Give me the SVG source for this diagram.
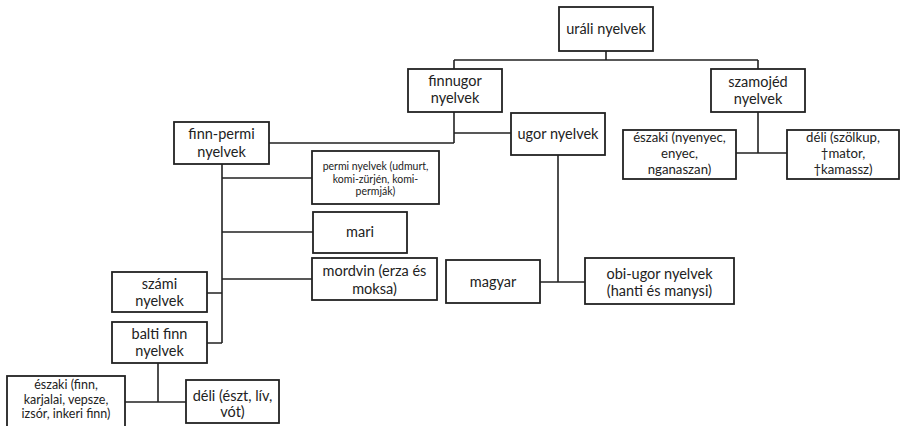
<svg xmlns="http://www.w3.org/2000/svg" width="903" height="426" viewBox="0 0 903 426">
<style>
rect{fill:#fff;stroke:#222;stroke-width:1.8}
.c path{fill:none;stroke:#222;stroke-width:1.6}
text{font-family:Lato,"Open Sans","Liberation Sans",sans-serif;font-size:14.5px;fill:#222;text-anchor:middle}
.s{font-size:10.5px}
.m{font-size:13.2px}
.n{font-size:12.5px}
</style>
<rect x="0" y="0" width="903" height="426" style="stroke:none"/>
<g class="c" id="connectors">
<path d="M606 51V60M454 60H758M454 60V69M758 60V69"/>
<path d="M454 112V143M269 143H454M454 133H511"/>
<path d="M558 155V282M540 282H585"/>
<path d="M758 112V153M736 153H787"/>
<path d="M222 164V343M222 178H312M222 232H313M222 279H312M207 293H222M207 343H222"/>
<path d="M158 363V402M125 402H186"/>
</g>
<g id="urali"><rect x="559" y="7" width="94" height="44"/><text x="606" y="34">uráli nyelvek</text></g>
<g id="finnugor"><rect x="408" y="69" width="94" height="43"/><text x="455" y="86">finnugor</text><text x="455" y="103">nyelvek</text></g>
<g id="szamojed"><rect x="711" y="69" width="94" height="43"/><text x="758" y="87">szamojéd</text><text x="758" y="104">nyelvek</text></g>
<g id="finnpermi"><rect x="174" y="122" width="95" height="42"/><text x="221.5" y="139">finn-permi</text><text x="221.5" y="157">nyelvek</text></g>
<g id="ugor"><rect x="511" y="113" width="94" height="42"/><text x="558" y="139">ugor nyelvek</text></g>
<g id="eszaki-szamojed"><rect x="623" y="130" width="113" height="49"/><text class="m" x="679.5" y="142">északi (nyenyec,</text><text class="m" x="679.5" y="158">enyec,</text><text class="m" x="679.5" y="174">nganaszan)</text></g>
<g id="deli-szamojed"><rect x="787" y="130" width="112" height="49"/><text class="m" x="843" y="142">déli (szölkup,</text><text class="m" x="843" y="158">†mator,</text><text class="m" x="843" y="174">†kamassz)</text></g>
<g id="permi"><rect x="312" y="151" width="127" height="53"/><text class="s" x="375.5" y="170">permi nyelvek (udmurt,</text><text class="s" x="375.5" y="182.5">komi-zürjén, komi-</text><text class="s" x="375.5" y="195">permják)</text></g>
<g id="mari"><rect x="313" y="212" width="94" height="41"/><text x="360" y="237">mari</text></g>
<g id="mordvin"><rect x="312" y="258" width="125" height="42"/><text x="374.5" y="276">mordvin (erza és</text><text x="374.5" y="294">moksa)</text></g>
<g id="szami"><rect x="112" y="272" width="95" height="40"/><text x="159.5" y="289">számi</text><text x="159.5" y="306">nyelvek</text></g>
<g id="balti"><rect x="112" y="322" width="95" height="41"/><text x="159.5" y="339">balti finn</text><text x="159.5" y="356">nyelvek</text></g>
<g id="eszaki-balti"><rect x="7" y="376" width="118" height="54"/><text class="n" x="66" y="389">északi (finn,</text><text class="n" x="66" y="403.5">karjalai, vepsze,</text><text class="n" x="66" y="418">izsór, inkeri finn)</text></g>
<g id="deli-balti"><rect x="186" y="380" width="93" height="43"/><text x="232.5" y="401">déli (észt, lív,</text><text x="232.5" y="417">vót)</text></g>
<g id="magyar"><rect x="446" y="260" width="94" height="43"/><text x="493" y="287">magyar</text></g>
<g id="obiugor"><rect x="585" y="258" width="149" height="46"/><text x="659.5" y="279">obi-ugor nyelvek</text><text x="659.5" y="296">(hanti és manysi)</text></g>
</svg>
